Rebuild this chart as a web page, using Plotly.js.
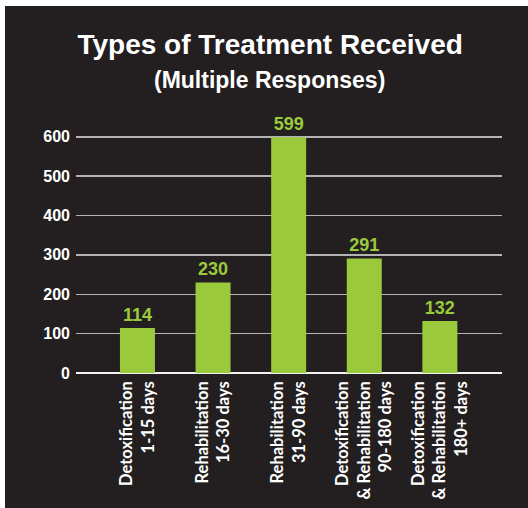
<!DOCTYPE html>
<html>
<head>
<meta charset="utf-8">
<script src="https://cdn.plot.ly/plotly-3.0.1.min.js"></script>
<style>
  html, body { margin: 0; padding: 0; background: #ffffff; }
  #chart { position: absolute; left: 5px; top: 6px; width: 523px; height: 502px; }
</style>
</head>
<body>
<div id="chart"></div>
<script>
const categories = [
  "Detoxification<br>1-15 days",
  "Rehabilitation<br>16-30 days",
  "Rehabilitation<br>31-90 days",
  "Detoxification<br>&amp; Rehabilitation<br>90-180 days",
  "Detoxification<br>&amp; Rehabilitation<br>180+ days"
];
const values = [114, 230, 599, 291, 132];
const yTicks = [0, 100, 200, 300, 400, 500, 600];

const titleText = "Types of Treatment Received";
const subtitleText = "(Multiple Responses)";

const BG = "#231F20";
const GREEN = "#9ACA3C";

const trace = {
  type: "bar",
  x: categories,
  y: values,
  width: 0.463,
  marker: { color: GREEN },
  text: values.map(String),
  texttemplate: "%{text}",
  textposition: "outside",
  textfont: { family: "Liberation Sans, Arial, sans-serif", size: 18, color: GREEN, weight: "bold" },
  cliponaxis: false,
  hoverinfo: "none"
};

const layout = {
  width: 523,
  height: 502,
  paper_bgcolor: BG,
  plot_bgcolor: BG,
  showlegend: false,
  margin: { l: 71, r: 26, t: 104, b: 135, pad: 0 },
  title: {
    text: titleText,
    font: { family: "Liberation Sans, Arial, sans-serif", size: 28, color: "#ffffff", weight: "bold" },
    x: 0.507,
    xanchor: "center",
    xref: "container",
    y: 0.905,
    yref: "container",
    yanchor: "bottom"
  },
  annotations: [{
    text: subtitleText,
    xref: "paper",
    yref: "paper",
    x: 0.454,
    y: 1.114,
    xanchor: "center",
    yanchor: "middle",
    showarrow: false,
    font: { family: "Liberation Sans, Arial, sans-serif", size: 23, color: "#ffffff", weight: "bold" }
  }],
  xaxis: {
    type: "category",
    range: [-0.813, 4.822],
    tickangle: -90,
    ticklabelstandoff: 4,
    tickfont: { family: "Lato, Liberation Sans, sans-serif", size: 16.5, color: "#ffffff", weight: "bold" },
    showgrid: false,
    showline: false,
    zeroline: false,
    ticks: ""
  },
  yaxis: {
    range: [0, 668],
    tickvals: yTicks,
    ticktext: yTicks.map(String),
    tickfont: { family: "Liberation Sans, Arial, sans-serif", size: 16, color: "#ffffff", weight: "bold" },
    ticklabelstandoff: 5,
    showgrid: true,
    gridcolor: "#B4B4B4",
    gridwidth: 1.5,
    zeroline: true,
    zerolinecolor: "#F2F2F2",
    zerolinewidth: 2,
    showline: false,
    ticks: ""
  },
  font: { family: "Liberation Sans, Arial, sans-serif", color: "#ffffff" }
};

Plotly.newPlot("chart", [trace], layout, { displayModeBar: false, staticPlot: true });
</script>
</body>
</html>
